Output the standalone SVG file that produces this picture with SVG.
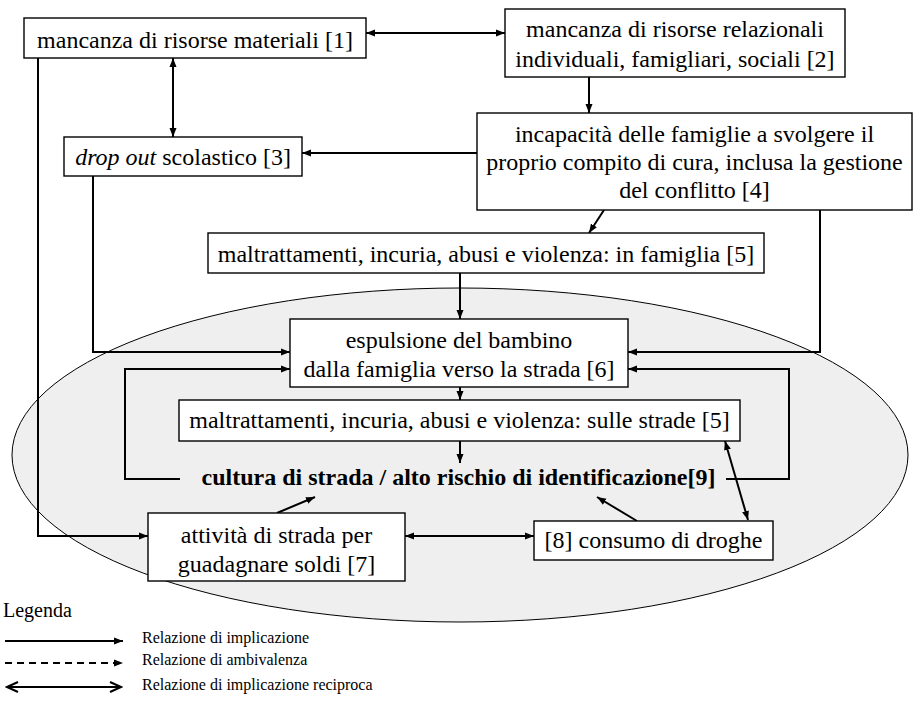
<svg xmlns="http://www.w3.org/2000/svg" width="916" height="704" viewBox="0 0 916 704">
<style>
.box{fill:#fff;stroke:#000;stroke-width:1.4}
.t{font-family:"Liberation Serif","Times New Roman",serif;font-size:24px;fill:#000;text-anchor:middle}
.b{font-weight:bold}
.c{fill:none;stroke:#000;stroke-width:2}
.lg{font-family:"Liberation Serif","Times New Roman",serif;font-size:16px;fill:#000}
</style>
<defs>
<marker id="ah" markerUnits="userSpaceOnUse" markerWidth="10" markerHeight="8" refX="9" refY="4" orient="auto-start-reverse">
<path d="M0,0.5 L9,4 L0,7.5 z" fill="#000"/>
</marker>
<marker id="open" markerUnits="userSpaceOnUse" markerWidth="14" markerHeight="12" refX="12" refY="6" orient="auto-start-reverse">
<path d="M1,1 L12,6 L1,11" fill="none" stroke="#000" stroke-width="2"/>
</marker>
</defs>
<rect width="916" height="704" fill="#fff"/>
<ellipse id="area" cx="460" cy="455" rx="448" ry="167" fill="#efefef" stroke="#000" stroke-width="1"/>

<g id="connectors">
<line class="c" x1="366" y1="33" x2="505" y2="33" marker-start="url(#ah)" marker-end="url(#ah)"/>
<line class="c" x1="173" y1="58" x2="173" y2="137" marker-start="url(#ah)" marker-end="url(#ah)"/>
<line class="c" x1="589" y1="77" x2="589" y2="113" marker-end="url(#ah)"/>
<line class="c" x1="477" y1="153" x2="302" y2="153" marker-end="url(#ah)"/>
<line class="c" x1="604" y1="210" x2="589" y2="233" marker-end="url(#ah)"/>
<line class="c" x1="460" y1="273" x2="460" y2="319" marker-end="url(#ah)"/>
<polyline class="c" points="93,176 93,352 290,352" marker-end="url(#ah)"/>
<polyline class="c" points="820,210 820,352 628,352" marker-end="url(#ah)"/>
<polyline class="c" points="38,58 38,536 148,536" marker-end="url(#ah)"/>
<line class="c" x1="460" y1="387" x2="460" y2="400" marker-end="url(#ah)"/>
<line class="c" x1="460" y1="441" x2="460" y2="463" marker-end="url(#ah)"/>
<polyline class="c" points="180,479 125,479 125,369 290,369" marker-end="url(#ah)"/>
<polyline class="c" points="726,479 789,479 789,369 628,369" marker-end="url(#ah)"/>
<line class="c" x1="277" y1="513" x2="315" y2="497" marker-end="url(#ah)"/>
<line class="c" x1="405" y1="536" x2="534" y2="536" marker-start="url(#ah)" marker-end="url(#ah)"/>
<line class="c" x1="637" y1="521" x2="597" y2="497" marker-end="url(#ah)"/>
<line class="c" x1="725" y1="441" x2="748" y2="520" marker-start="url(#ah)" marker-end="url(#ah)"/>
</g>

<g id="n1">
<rect class="box" x="24" y="18" width="342" height="40"/>
<text class="t" x="195" y="48">mancanza di risorse materiali [1]</text>
</g>
<g id="n2">
<rect class="box" x="505" y="9" width="340" height="68"/>
<text class="t" x="675" y="37">mancanza di risorse relazionali</text>
<text class="t" x="675" y="67">individuali, famigliari, sociali [2]</text>
</g>
<g id="n3">
<rect class="box" x="64" y="137" width="238" height="39"/>
<text class="t" x="183" y="165"><tspan font-style="italic">drop out</tspan> scolastico [3]</text>
</g>
<g id="n4">
<rect class="box" x="477" y="113" width="435" height="97"/>
<text class="t" x="694.5" y="142">incapacità delle famiglie a svolgere il</text>
<text class="t" x="694.5" y="170">proprio compito di cura, inclusa la gestione</text>
<text class="t" x="694.5" y="198">del conflitto [4]</text>
</g>
<g id="n5">
<rect class="box" x="208" y="233" width="556" height="40" stroke-width="2"/>
<text class="t" x="486" y="262">maltrattamenti, incuria, abusi e violenza: in famiglia [5]</text>
</g>
<g id="n6">
<rect class="box" x="290" y="319" width="338" height="68"/>
<text class="t" x="459" y="348">espulsione del bambino</text>
<text class="t" x="459" y="377">dalla famiglia verso la strada [6]</text>
</g>
<g id="n5b">
<rect class="box" x="179" y="400" width="561" height="41"/>
<text class="t" x="459.5" y="428">maltrattamenti, incuria, abusi e violenza: sulle strade [5]</text>
</g>
<g id="n9">
<text class="t b" x="458.5" y="485">cultura di strada / alto rischio di identificazione[9]</text>
</g>
<g id="n7">
<rect class="box" x="148" y="513" width="257" height="68"/>
<text class="t" x="276.5" y="543">attività di strada per</text>
<text class="t" x="276.5" y="572">guadagnare soldi [7]</text>
</g>
<g id="n8">
<rect class="box" x="534" y="521" width="239" height="39"/>
<text class="t" x="653.5" y="548">[8] consumo di droghe</text>
</g>

<g id="legend">
<text x="3" y="617" font-family="Liberation Serif, serif" font-size="20">Legenda</text>
<line class="c" x1="5" y1="641" x2="123" y2="641" marker-end="url(#ah)"/>
<line class="c" x1="5" y1="663" x2="123" y2="663" stroke-dasharray="7,5" marker-end="url(#ah)"/>
<line class="c" x1="7" y1="687" x2="121" y2="687" marker-start="url(#open)" marker-end="url(#open)"/>
<text class="lg" x="142" y="643">Relazione di implicazione</text>
<text class="lg" x="142" y="665">Relazione di ambivalenza</text>
<text class="lg" x="142" y="690">Relazione di implicazione reciproca</text>
</g>
</svg>
